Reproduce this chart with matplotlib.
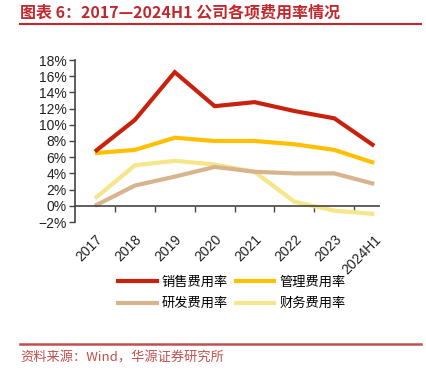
import matplotlib
matplotlib.use("Agg")
from matplotlib import pyplot as plt
from matplotlib.ticker import FixedLocator, FuncFormatter
from matplotlib.lines import Line2D

plt.rcParams['font.family'] = ['Liberation Sans', 'Noto Sans CJK SC', 'DejaVu Sans']

# data (%)
years = ['2017', '2018', '2019', '2020', '2021', '2022', '2023', '2024H1']
sales = [6.7, 10.6, 16.5, 12.3, 12.8, 11.7, 10.8, 7.4]
admin = [6.5, 6.9, 8.4, 8.0, 8.0, 7.6, 6.9, 5.3]
rnd = [0.0, 2.5, 3.6, 4.8, 4.2, 4.0, 4.0, 2.7]
finance = [0.9, 5.0, 5.55, 5.1, 4.2, 0.5, -0.6, -1.0]

names = ['销售费用率', '管理费用率', '研发费用率', '财务费用率']
colors = ['#C8220E', '#FFC000', '#D8B48E', '#F5E68A']
series = [sales, admin, rnd, finance]

fig = plt.figure(figsize=(4.27, 3.75), dpi=100)
ax = fig.add_axes([75 / 427, (375 - 222) / 375, 304 / 427, 162 / 375])

x = list(range(len(years)))
# draw back to front so the red line sits on top
for vals, c in zip(series[::-1], colors[::-1]):
    ax.plot(x, vals, color=c, lw=3, solid_capstyle='butt', solid_joinstyle='miter')

ax.set_ylim(-2, 18)
ax.set_xlim(-0.5, 7.12)
ax.set_yticks(range(-2, 19, 2))
ax.yaxis.set_major_formatter(FuncFormatter(lambda v, p: f'{v:.0f}%'.replace('-', '\u2212')))

for s in ['top', 'right']:
    ax.spines[s].set_visible(False)
ax.spines['bottom'].set_position(('data', 0))
ax.spines['left'].set_color('#444444')
ax.spines['bottom'].set_color('#444444')
ax.spines['left'].set_linewidth(1.2)
ax.spines['bottom'].set_linewidth(1.2)

ax.set_xticks(x)
ax.set_xticklabels(years, rotation=45, ha='right', rotation_mode='anchor')
ax.xaxis.set_minor_locator(FixedLocator([i + 0.5 for i in range(len(years) - 1)]))
ax.tick_params(axis='x', which='major', length=0, pad=19, labelsize=10, colors='#222222')
ax.tick_params(axis='x', which='minor', length=4, direction='out', width=1, color='#444444')
ax.tick_params(axis='y', length=4, width=1, labelsize=10, colors='#222222', color='#444444', pad=2)

# legend fills by column: reorder so rows read 销售/管理, 研发/财务
order = [0, 2, 1, 3]
handles = [Line2D([], [], color=colors[i], lw=3) for i in order]
fig.legend(handles, [names[i] for i in order], loc='center', bbox_to_anchor=(232 / 427, 1 - 293 / 375),
           ncol=2, frameon=False, handlelength=2.9, columnspacing=0.6, handletextpad=0.4,
           labelspacing=0.65, prop={'family': 'Noto Sans CJK SC', 'size': 9.5})

fig.text(20 / 427, 1 - 12 / 375, '图表 6：2017—2024H1 公司各项费用率情况', color='#C0282E',
         fontsize=11.5, fontweight='bold', family=['Noto Sans CJK SC', 'DejaVu Sans'],
         va='center', ha='left')
fig.add_artist(Line2D([20 / 427, 421 / 427], [1 - 24 / 375] * 2, color='#C0282E', lw=1.5))
fig.add_artist(Line2D([20 / 427, 421 / 427], [1 - 344 / 375] * 2, color='#C0504D', lw=1.8))
fig.text(20 / 427, 1 - 358 / 375, '资料来源：Wind，华源证券研究所', color='#C0504D',
         fontsize=9.5, family=['Noto Sans CJK SC', 'DejaVu Sans'], va='center', ha='left')

fig.savefig('out.png', dpi=100)
plt.close(fig)
